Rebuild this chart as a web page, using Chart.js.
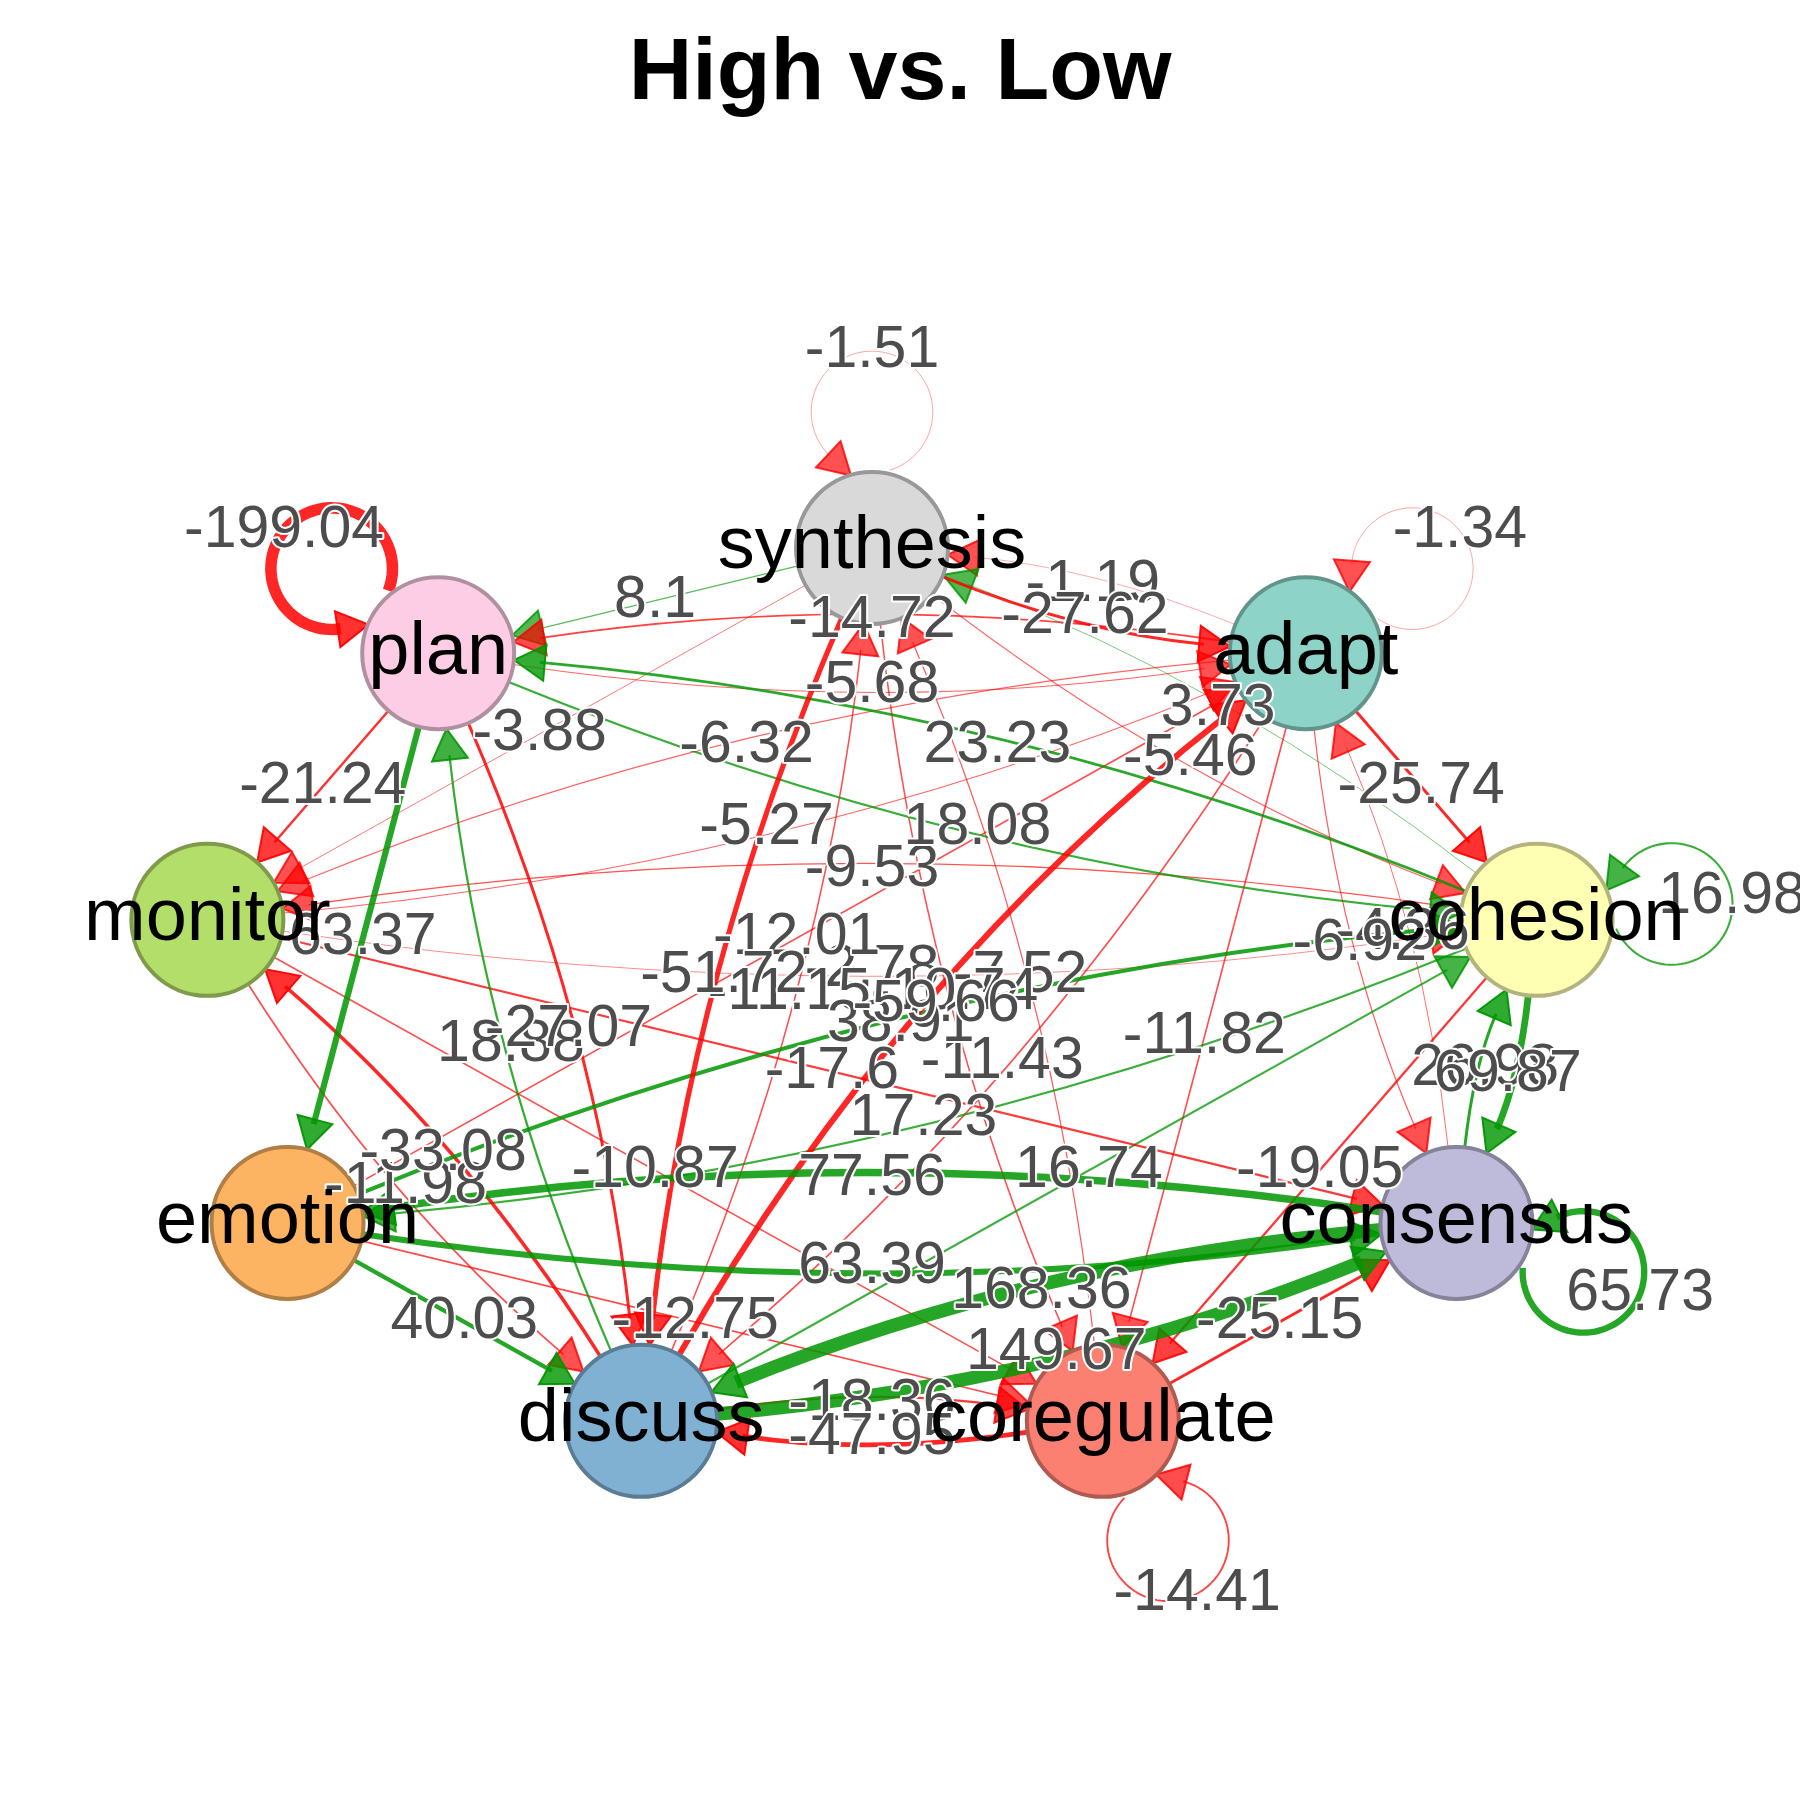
<!DOCTYPE html>
<html>
<head>
<meta charset="utf-8">
<script src="https://cdn.jsdelivr.net/npm/chart.js@4.4.0/dist/chart.umd.min.js"></script>
<style>
html,body{margin:0;padding:0;background:#ffffff;}
canvas{display:block;}
</style>
</head>
<body>
<canvas id="c" width="1800" height="1800"></canvas>
<script>
// ---------------- data ----------------
const chartTitle = 'High vs. Low';
const nodes = ['synthesis','adapt','cohesion','consensus','coregulate','discuss','emotion','monitor','plan'];

const edgeFrom = [
 'synthesis','synthesis','adapt','plan','adapt','synthesis','adapt','monitor','cohesion','plan',
 'plan','plan','cohesion','monitor','emotion','synthesis','discuss','synthesis','coregulate','discuss',
 'adapt','adapt','cohesion','discuss','monitor','emotion','cohesion','consensus','emotion','monitor',
 'discuss','monitor','discuss','plan','emotion','emotion','consensus','discuss','coregulate','discuss',
 'coregulate','adapt','adapt','consensus','consensus','cohesion','synthesis','cohesion',
 'synthesis','adapt','plan','cohesion','consensus','coregulate'
];
const edgeTo = [
 'plan','adapt','synthesis','adapt','plan','monitor','monitor','adapt','plan','cohesion',
 'monitor','emotion','monitor','cohesion','adapt','discuss','synthesis','coregulate','synthesis','adapt',
 'discuss','coregulate','coregulate','cohesion','consensus','cohesion','emotion','emotion','consensus','coregulate',
 'monitor','discuss','plan','discuss','discuss','coregulate','discuss','consensus','discuss','coregulate',
 'consensus','cohesion','consensus','adapt','cohesion','consensus','cohesion','synthesis',
 'synthesis','adapt','plan','cohesion','consensus','coregulate'
];
const edgeWeight = [
 8.1,-27.62,-1.19,-5.68,-14.72,-3.88,-6.32,-5.27,23.23,18.08,
 -21.24,63.37,-9.53,-2.78,-12.01,-51.72,-11.15,-10.74,-7.52,-59.66,
 -11.43,-11.82,-19.05,16.74,-17.6,38.91,17.23,77.56,63.39,-10.87,
 -33.08,-11.98,18.88,-27.07,40.03,-12.75,168.36,149.67,-47.95,-18.36,
 -25.15,-25.74,-6.92,-4.36,26.98,69.87,-5.46,3.73,
 -1.51,-1.34,-199.04,16.98,65.73,-14.41
];
// ---------------- style ----------------
const edgeCurve = [
 0,1,1,1,1,0,1,1,1,1,
 0,0,1,1,0,1,1,1,1,-1.3,
 -1,0,0,0,0,-1,-1,1,1,0,
 1,1,-1,-1,0,0,1,1,-1,-1,
 0,0,1,1,-1,-1,1,1,
 0,0,0,0,0,0
];
const nodeFill   = ['#D9D9D9','#8DD3C7','#FFFFB3','#BEBADA','#FB8072','#80B1D3','#FDB462','#B3DE69','#FCCDE5'];
const nodeBorder = ['#989898','#63948B','#B3B37D','#858299','#B05A50','#5A7C94','#B17E45','#7D9B4A','#B090A0'];

const FONT = '"Liberation Sans", Arial, Helvetica, sans-serif';
const NODE_R = 76;
const AL = 31, AW = 18;

function edgeAlpha(w){ return Math.min(0.85, 0.38 + 0.47*Math.sqrt(Math.abs(w)/25)); }
function edgeWidth(w){ return Math.min(13.5, 0.6 + 0.088*Math.abs(w)); }
function edgeColor(w,a){ return w >= 0 ? 'rgba(0,150,0,'+a+')' : 'rgba(255,0,0,'+a+')'; }

function drawArrow(ctx, tx, ty, dx, dy, w){
  const a = Math.max(0.72, edgeAlpha(w));
  const bx = tx - dx*AL, by = ty - dy*AL;
  ctx.beginPath();
  ctx.moveTo(tx, ty);
  ctx.lineTo(bx - dy*AW, by + dx*AW);
  ctx.lineTo(bx + dy*AW, by - dx*AW);
  ctx.closePath();
  ctx.fillStyle = edgeColor(w, a*0.95);
  ctx.fill();
  ctx.lineWidth = 2;
  ctx.lineJoin = 'miter';
  ctx.strokeStyle = edgeColor(w, Math.min(1, a+0.1));
  ctx.stroke();
}

const netPlugin = {
  id: 'net',
  beforeDatasetsDraw(chart){
    const ctx = chart.ctx;
    const meta = chart.getDatasetMeta(0);
    const pos = {};
    nodes.forEach((n,k)=>{ pos[n] = {x: meta.data[k].x, y: meta.data[k].y}; });
    const cx0 = chart.scales.x.getPixelForValue(0);
    const cy0 = chart.scales.y.getPixelForValue(0);
    const order = edgeWeight.map((w,i)=>i).sort((a,b)=>Math.abs(edgeWeight[a])-Math.abs(edgeWeight[b]));
    const labels = [];
    ctx.save();
    ctx.lineCap = 'butt';
    for (const i of order){
      const w = edgeWeight[i];
      const col = edgeColor(w, edgeAlpha(w));
      const lw = edgeWidth(w);
      const p0 = pos[edgeFrom[i]], p2 = pos[edgeTo[i]];
      if (edgeFrom[i] === edgeTo[i]){
        // self loop, pointing away from the layout centre
        let dx = p0.x - cx0, dy = p0.y - cy0; const dl = Math.hypot(dx,dy); dx/=dl; dy/=dl;
        const lx = dy, ly = -dx;
        const Lx = p0.x + 1.79*NODE_R*dx, Ly = p0.y + 1.79*NODE_R*dy;
        const rho = 0.8*NODE_R;
        const ps = -(Math.PI-0.3), pe = Math.PI-0.75;
        ctx.beginPath();
        for (let s=0;s<=80;s++){
          const f = ps + (pe-ps)*s/80;
          const x = Lx + rho*(Math.cos(f)*dx + Math.sin(f)*lx);
          const y = Ly + rho*(Math.cos(f)*dy + Math.sin(f)*ly);
          if (s===0) ctx.moveTo(x,y); else ctx.lineTo(x,y);
        }
        ctx.strokeStyle = col; ctx.lineWidth = Math.min(lw, 11.5); ctx.stroke();
        const bx = Lx + rho*(Math.cos(pe)*dx + Math.sin(pe)*lx);
        const by = Ly + rho*(Math.cos(pe)*dy + Math.sin(pe)*ly);
        const tx = -Math.sin(pe)*dx + Math.cos(pe)*lx;
        const ty = -Math.sin(pe)*dy + Math.cos(pe)*ly;
        drawArrow(ctx, bx + tx*AL*0.9, by + ty*AL*0.9, tx, ty, w);
        labels.push({x: Lx + rho*dx, y: Ly + rho*dy, t: String(w)});
        continue;
      }
      const dx = p2.x-p0.x, dy = p2.y-p0.y, len = Math.hypot(dx,dy);
      const nx = -dy/len, ny = dx/len;
      const k = edgeCurve[i]*0.075*len;
      const cx = (p0.x+p2.x)/2 + nx*k, cy = (p0.y+p2.y)/2 + ny*k;
      const ux = cx-p0.x, uy = cy-p0.y, ul = Math.hypot(ux,uy);
      const sx = p0.x + ux/ul*NODE_R, sy = p0.y + uy/ul*NODE_R;
      const vx = cx-p2.x, vy = cy-p2.y, vl = Math.hypot(vx,vy);
      const tx = p2.x + vx/vl*NODE_R, ty = p2.y + vy/vl*NODE_R;
      const ddx = -vx/vl, ddy = -vy/vl;
      const ex = tx - ddx*AL*0.85, ey = ty - ddy*AL*0.85;
      ctx.beginPath();
      ctx.moveTo(sx,sy);
      ctx.quadraticCurveTo(cx,cy,ex,ey);
      ctx.strokeStyle = col; ctx.lineWidth = lw; ctx.stroke();
      drawArrow(ctx, tx, ty, ddx, ddy, w);
      labels.push({x:(p0.x+2*cx+p2.x)/4, y:(p0.y+2*cy+p2.y)/4, t:String(w)});
    }
    ctx.restore();
    chart.$netLabels = labels;
    chart.$netPos = pos;
  },
  afterDatasetsDraw(chart){
    const ctx = chart.ctx;
    ctx.save();
    ctx.textAlign = 'center';
    ctx.textBaseline = 'middle';
    ctx.font = '59px ' + FONT;
    ctx.lineJoin = 'round';
    for (const l of chart.$netLabels || []){
      ctx.strokeStyle = '#ffffff';
      ctx.lineWidth = 4;
      ctx.strokeText(l.t, l.x, l.y);
      ctx.fillStyle = '#4D4D4D';
      ctx.fillText(l.t, l.x, l.y);
    }
    ctx.font = '74px ' + FONT;
    ctx.fillStyle = '#000000';
    const pos = chart.$netPos;
    nodes.forEach(n=>{ ctx.fillText(n, pos[n].x, pos[n].y); });
    ctx.restore();
  }
};

const nodePoints = nodes.map((n,k)=>{
  const a = (90 - 40*k) * Math.PI/180;
  return {x: Math.cos(a), y: Math.sin(a)};
});

new Chart(document.getElementById('c'), {
  type: 'scatter',
  data: {
    datasets: [{
      label: 'nodes',
      data: nodePoints,
      pointRadius: NODE_R,
      pointHoverRadius: NODE_R,
      pointBackgroundColor: nodeFill,
      pointBorderColor: nodeBorder,
      pointBorderWidth: 4,
      clip: false
    }]
  },
  options: {
    responsive: false,
    animation: false,
    devicePixelRatio: 1,
    layout: { autoPadding: false, padding: { left: 50, right: 50, top: 0, bottom: 82 } },
    scales: {
      x: { type: 'linear', min: -1.218, max: 1.301, display: false },
      y: { type: 'linear', min: -1.6, max: 1.6, display: false }
    },
    plugins: {
      legend: { display: false },
      tooltip: { enabled: false },
      title: {
        display: true,
        text: chartTitle,
        color: '#000000',
        font: { family: FONT, size: 88, weight: 'bold' },
        padding: { top: 22, bottom: 150.4 }
      }
    }
  },
  plugins: [netPlugin]
});
</script>
</body>
</html>
